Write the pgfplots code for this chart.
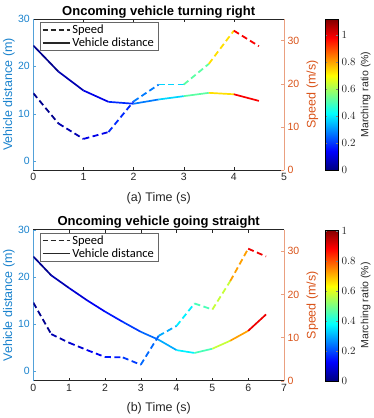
\documentclass[border=0pt]{standalone}
\usepackage{fontspec}
\setmainfont{Liberation Sans}
\newfontfamily\legfont{Carlito}
\usepackage{pgfplots}
\pgfplotsset{compat=1.18}

\definecolor{distc}{RGB}{25,130,205}
\definecolor{spdc}{RGB}{217,83,25}
\definecolor{axgray}{RGB}{38,38,38}

\pgfplotsset{
  colormap={mjet}{rgb(0pt)=(0,0,0.5); rgb(1pt)=(0,0,1); rgb(3pt)=(0,1,1); rgb(5pt)=(1,1,0); rgb(7pt)=(1,0,0); rgb(8pt)=(0.5,0,0)},
  base/.style={
    scale only axis, width=250.7pt, height=151pt,
    /pgf/number format/assume math mode=true,
    tick label style={font=\fontsize{10.5}{12}\selectfont},
    major tick length=3pt,
    colormap name=mjet, point meta min=0,
  },
  leftax/.style={base,
    axis y line*=left, ymax=30, ytick={0,10,20,30},
    xtick pos=both,
    y axis line style={draw=distc!75!white, line width=0.5pt},
    ytick style={draw=distc!75!white},
    yticklabel style={text=distc},
    x axis line style={draw=axgray, line width=0.5pt},
    xtick style={draw=axgray},
    xticklabel style={text=axgray},
    every axis y label/.style={at={(axis description cs:-0.097,0.5)}, rotate=90, anchor=center,
      font=\fontsize{12.5}{14}\selectfont, text=distc},
    every axis x label/.style={at={(axis description cs:0.5,0)}, anchor=center, yshift=-28pt,
      font=\fontsize{12.5}{14}\selectfont, text=axgray},
    every axis title shift=0pt,
    every axis title/.style={at={(axis description cs:0.5,1)}, anchor=base, yshift=4pt,
      font=\bfseries\fontsize{13}{15}\selectfont},
  },
  rightax/.style={base,
    axis y line*=right, axis x line=none, ymin=0, ymax=35, ytick={0,10,20,30},
    y axis line style={draw=spdc!55!white, line width=0.5pt},
    ytick style={draw=spdc!55!white},
    yticklabel style={text=spdc},
    every axis y label/.style={at={(axis description cs:1.113,0.5)}, rotate=90, anchor=center,
      font=\fontsize{12.5}{14}\selectfont, text=spdc},
    legend style={at={(axis description cs:0.0255,0.98)}, anchor=north west,
      draw=gray!80!black, line width=0.6pt, fill=white,
      font=\legfont\fontsize{12.5}{13}\selectfont,
      inner xsep=2pt, inner ysep=0.5pt, row sep=-1pt, cells={anchor=west}},
    legend image code/.code={\draw[#1] (0pt,0pt) -- (27pt,0pt);},
    colorbar,
    colorbar style={at={(parent axis.north east)}, anchor=north west, xshift=32.5pt,
      width=13pt, ytick={0,0.2,...,1}, major tick length=2pt,
      axis line style={draw=black, line width=0.4pt},
      yticklabel style={font=\fontsize{10.5}{12}\selectfont, text=axgray},
      ylabel={Marching ratio (\%)},
      every axis y label/.style={at={(axis description cs:3.13,0.5)}, rotate=90, anchor=center,
        font=\fontsize{10.5}{12}\selectfont, text=axgray}},
  },
  distline/.style={mesh, point meta=explicit, line width=1.7pt, forget plot},
  spdline/.style={mesh, point meta=explicit, line width=1.8pt, dash pattern=on 6pt off 3.5pt, forget plot},
}

\begin{document}
\begin{tikzpicture}
\useasboundingbox (-33.3pt,19pt) rectangle (340.7pt,-399pt);

% (a) oncoming vehicle turning right
\begin{axis}[leftax, at={(0,0)}, anchor=north west,
  xmin=0, xmax=5, xtick={0,1,2,3,4,5}, ymin=-1.9, point meta max=1.12,
  title={Oncoming vehicle turning right},
  xlabel={(a) Time (s)}, ylabel={Vehicle distance (m)}]
\addplot[distline] table[x=t, y=d, meta=m] {
t   d    m
0   24.4 0
0.5 18.9 0.03
1   14.9 0.08
1.5 12.5 0.15
2   12.1 0.22
2.5 13.0 0.33
3   13.7 0.42
3.5 14.4 0.62
4   14.1 0.85
4.5 12.7 1.12
};
\end{axis}
\begin{axis}[rightax, at={(0,0)}, anchor=north west,
  xmin=0, xmax=5, point meta max=1.12,
  ylabel={Speed (m/s)}]
\addlegendimage{axgray, line width=1.3pt, dash pattern=on 5pt off 3pt}
\addlegendentry{Speed}
\addlegendimage{axgray, line width=1.3pt}
\addlegendentry{Vehicle distance}
\addplot[spdline] table[x=t, y=s, meta=m] {
t   s    m
0   17.8 0
0.5 10.8 0.03
1   7.2  0.08
1.5 8.8  0.15
2   15.9 0.22
2.5 19.8 0.33
3   19.8 0.42
3.5 24.6 0.62
4   32.3 0.85
4.5 28.7 1.12
};
\end{axis}

% (b) oncoming vehicle going straight
\begin{axis}[leftax, at={(0,-210.7pt)}, anchor=north west,
  xmin=0, xmax=7, xtick={0,1,2,3,4,5,6,7}, ymin=-2.1, point meta max=1.01,
  title={Oncoming vehicle going straight},
  xlabel={(b) Time (s)}, ylabel={Vehicle distance (m)}]
\addplot[distline] table[x=t, y=d, meta=m] {
t   d    m
0   24.3 0
0.5 20.3 0.03
1   17.6 0.07
1.5 15.0 0.10
2   12.6 0.13
2.5 10.4 0.17
3   8.3  0.20
3.5 6.6  0.26
4   4.4  0.33
4.5 3.8  0.40
5   4.7  0.50
5.5 6.4  0.65
6   8.5  0.80
6.5 12.0 1.00
};
\end{axis}
\begin{axis}[rightax, at={(0,-210.7pt)}, anchor=north west,
  xmin=0, xmax=7, point meta max=1.01,
  ylabel={Speed (m/s)}]
\addlegendimage{axgray, line width=1.3pt, dash pattern=on 5pt off 3pt}
\addlegendentry{Speed}
\addlegendimage{axgray, line width=1.3pt}
\addlegendentry{Vehicle distance}
\addplot[spdline] table[x=t, y=s, meta=m] {
t   s    m
0   18.1 0
0.5 10.8 0.03
1   8.8  0.07
1.5 7.1  0.10
2   5.5  0.13
2.5 5.4  0.17
3   3.7  0.20
3.5 10.4 0.26
4   12.7 0.33
4.5 17.9 0.40
5   16.5 0.50
5.5 23.1 0.65
6   30.6 0.80
6.5 28.8 1.00
};
\end{axis}
\end{tikzpicture}
\end{document}
